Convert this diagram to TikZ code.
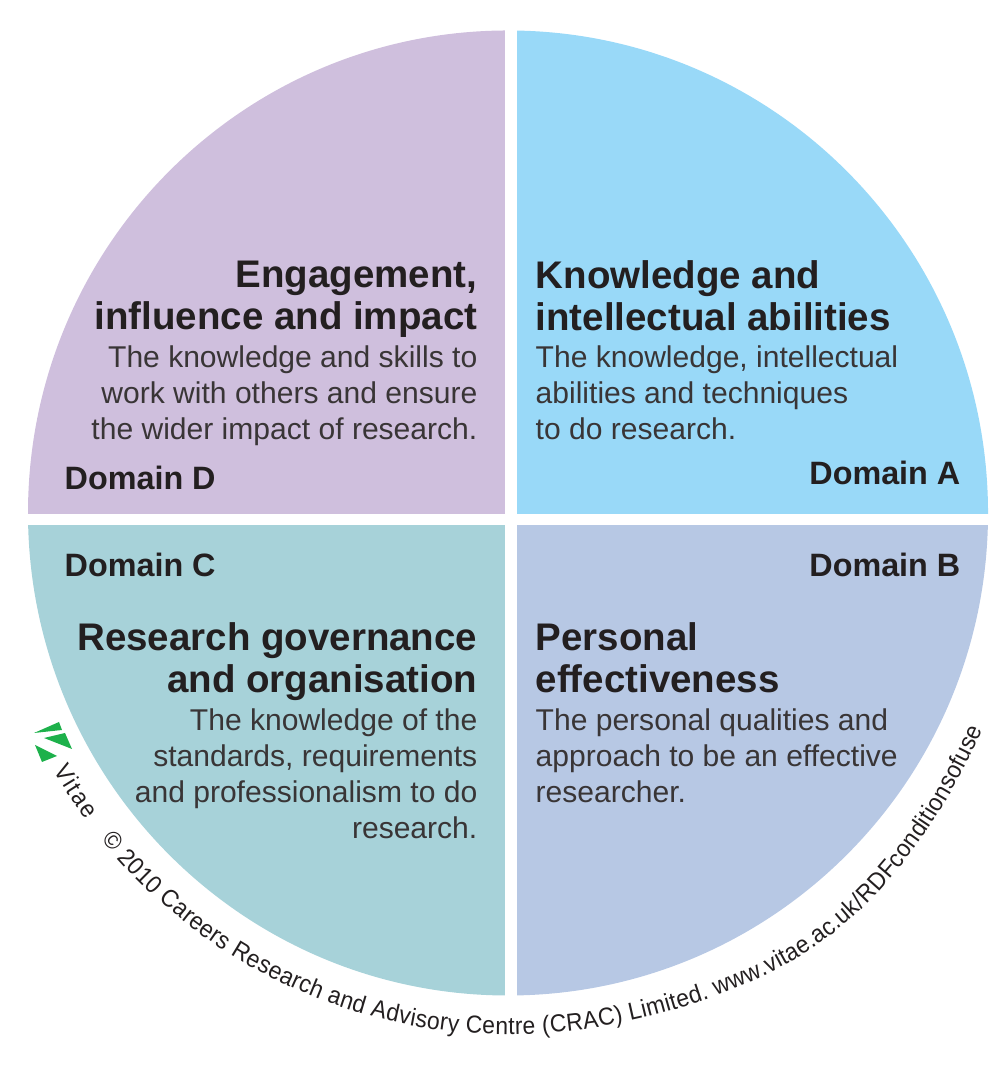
\documentclass[tikz,border=0pt]{standalone}
\usepackage{fontspec}
\setmainfont{Liberation Sans}
\newfontfamily\curvefam[FakeStretch=0.93]{Liberation Sans}
\usetikzlibrary{decorations.text}
\definecolor{domA}{HTML}{99D9F8}
\definecolor{domB}{HTML}{B7C8E4}
\definecolor{domC}{HTML}{A7D2D9}
\definecolor{domD}{HTML}{CFBFDD}
\definecolor{ink}{HTML}{231F20}
\definecolor{vitaegreen}{HTML}{1DB14B}
\newcommand{\curvefont}{\curvefam\fontsize{7}{8}\selectfont\color{ink}}
\tikzset{
	heading/.style={inner sep=0pt,text=ink,font=\fontsize{10.95}{11.95}\selectfont\bfseries},
	body/.style={inner sep=0pt,text=ink!90,font=\fontsize{8.55}{10.24}\selectfont},
	domlabel/.style={inner sep=0pt,text=ink,font=\fontsize{9.2}{11}\selectfont\bfseries},
	logo/.pic={
        code={
\fill[vitaegreen](0.34,3.45)--(0.59,3.56)--(0.62,3.48)--cycle;
\fill[vitaegreen](0.44,3.40)--(0.65,3.45)--(0.72,3.29)--cycle;
\fill[vitaegreen](0.35,3.33)--(0.57,3.22)--(0.42,3.16)--cycle;
							}
	}
}
\begin{document}
\begin{tikzpicture}
\useasboundingbox (0,0) rectangle (10,10.78);
%Quadrants
\begin{scope}
\clip (5.08,5.65) ellipse [x radius=4.80,y radius=4.825];
\fill[domD] (0,5.64) rectangle (5.045,10.78);
\fill[domA] (5.165,5.64) rectangle (10,10.78);
\fill[domC] (0,0) rectangle (5.045,5.53);
\fill[domB] (5.165,0) rectangle (10,5.53);
\end{scope}
%Domain D
\node[heading,align=right,anchor=north east] (headD) at (4.78,8.18) {Engagement,\\influence and impact};
\node[body,align=right,anchor=north east] (textD) at (4.78,7.33) {The knowledge and skills to\\work with others and ensure\\the wider impact of research.};
\node[domlabel,anchor=base west] (labelD) at (0.64,5.88) {Domain D};
%Domain A
\node[heading,align=left,anchor=north west] (headA) at (5.35,8.18) {Knowledge and\\intellectual abilities};
\node[body,align=left,anchor=north west] (textA) at (5.35,7.33) {The knowledge, intellectual\\abilities and techniques\\to do research.};
\node[domlabel,anchor=base east] (labelA) at (9.61,5.93) {Domain A};
%Domain C
\node[heading,align=right,anchor=north east] (headC) at (4.78,4.56) {Research governance\\and organisation};
\node[body,align=right,anchor=north east] (textC) at (4.78,3.70) {The knowledge of the\\standards, requirements\\and professionalism to do\\research.};
\node[domlabel,anchor=base west] (labelC) at (0.64,5.01) {Domain C};
%Domain B
\node[heading,align=left,anchor=north west] (headB) at (5.35,4.56) {Personal\\effectiveness};
\node[body,align=left,anchor=north west] (textB) at (5.35,3.70) {The personal qualities and\\approach to be an effective\\researcher.};
\node[domlabel,anchor=base east] (labelB) at (9.61,5.01) {Domain B};
%Logo and copyright
\path (0,0) pic {logo};
\path[decorate,decoration={text along path,text align=fit to path,text={|\curvefont|Vitae}}] plot[domain=209.5:216,samples=12] ({5.08+5.22*cos(\x)},{5.65+5.22*sin(\x)});
\path[decorate,decoration={text along path,text align=fit to path,text={|\curvefont|© 2010 Careers Research and Advisory Centre (CRAC) Limited. www.vitae.ac.uk/RDFconditionsofuse}}] plot[domain=218.8:335.5,samples=120] ({5.08+(5.215+0.10*exp(-((\x-308)/16)^2))*cos(\x)},{5.65+(5.215+0.10*exp(-((\x-308)/16)^2))*sin(\x)});
\end{tikzpicture}
\end{document}
